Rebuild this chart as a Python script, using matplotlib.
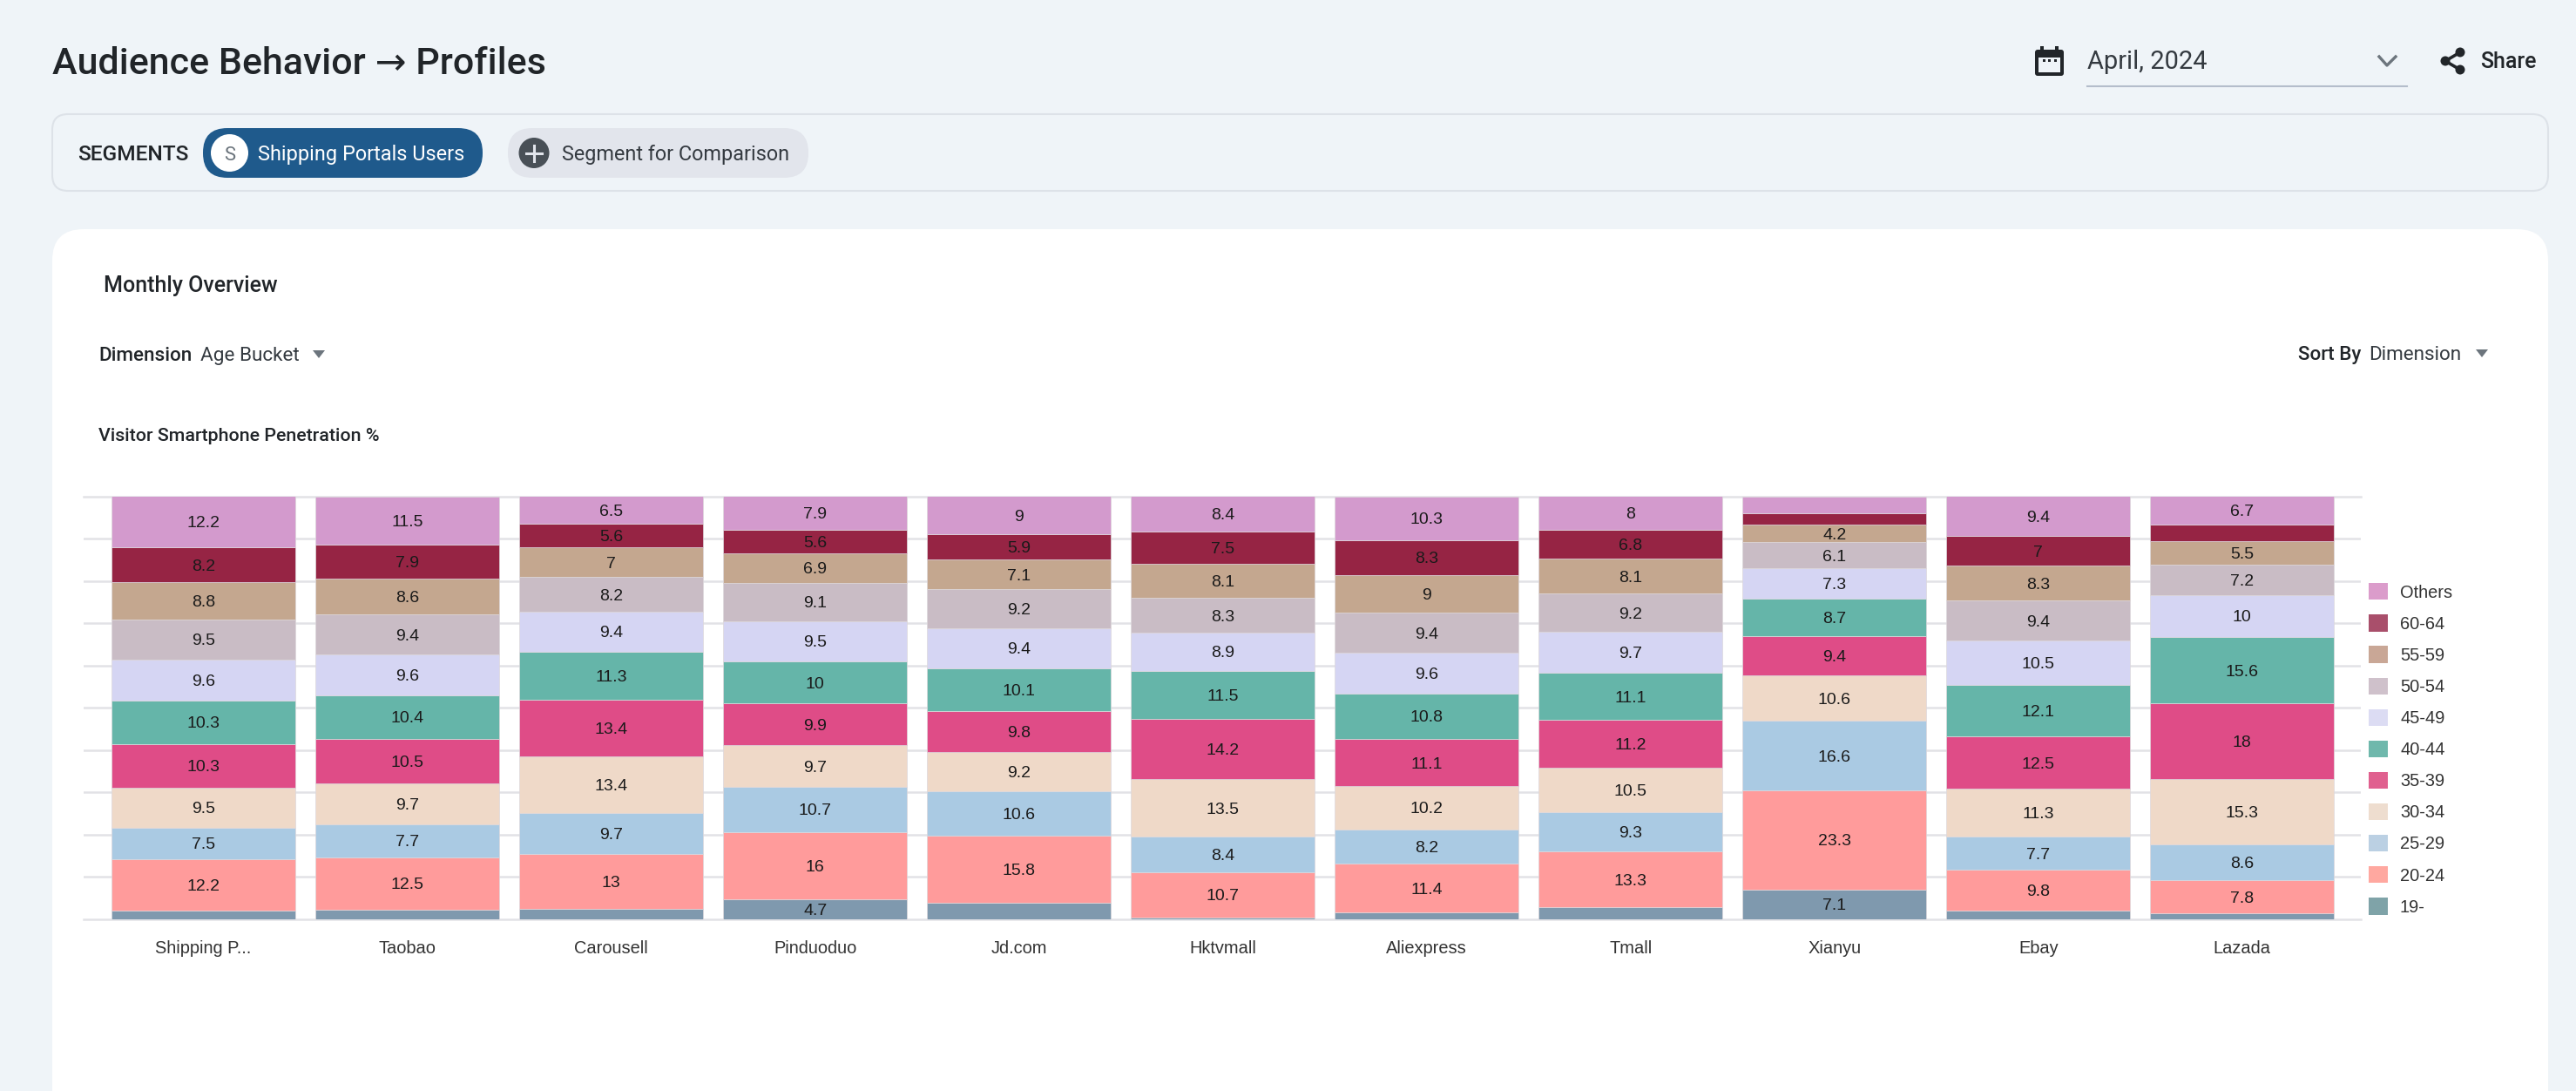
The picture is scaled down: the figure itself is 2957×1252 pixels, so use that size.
"""
plot.py

Recreates the Audience Behavior -> Profiles dashboard:
stacked age bucket bars per shipping portal, plus the page chrome around them.
"""

import matplotlib
matplotlib.use("Agg")
import matplotlib.pyplot as plt
from matplotlib.patches import FancyBboxPatch, Circle, Polygon, Patch, Rectangle

plt.rcParams["font.family"] = ["Roboto", "DejaVu Sans"]

portals = ["Shipping P...", "Taobao", "Carousell", "Pinduoduo", "Jd.com", "Hktvmall",
           "Aliexpress", "Tmall", "Xianyu", "Ebay", "Lazada"]
buckets = ["19-", "20-24", "25-29", "30-34", "35-39", "40-44",
           "45-49", "50-54", "55-59", "60-64", "Others"]

age_19 = [2.0, 2.2, 2.5, 4.7, 3.9, 0.5, 1.7, 2.8, 7.1, 2.0, 1.4]
age_20 = [12.2, 12.5, 13, 16, 15.8, 10.7, 11.4, 13.3, 23.3, 9.8, 7.8]
age_25 = [7.5, 7.7, 9.7, 10.7, 10.6, 8.4, 8.2, 9.3, 16.6, 7.7, 8.6]
age_30 = [9.5, 9.7, 13.4, 9.7, 9.2, 13.5, 10.2, 10.5, 10.6, 11.3, 15.3]
age_35 = [10.3, 10.5, 13.4, 9.9, 9.8, 14.2, 11.1, 11.2, 9.4, 12.5, 18]
age_40 = [10.3, 10.4, 11.3, 10, 10.1, 11.5, 10.8, 11.1, 8.7, 12.1, 15.6]
age_45 = [9.6, 9.6, 9.4, 9.5, 9.4, 8.9, 9.6, 9.7, 7.3, 10.5, 10]
age_50 = [9.5, 9.4, 8.2, 9.1, 9.2, 8.3, 9.4, 9.2, 6.1, 9.4, 7.2]
age_55 = [8.8, 8.6, 7, 6.9, 7.1, 8.1, 9, 8.1, 4.2, 8.3, 5.5]
age_60 = [8.2, 7.9, 5.6, 5.6, 5.9, 7.5, 8.3, 6.8, 2.6, 7, 3.9]
others = [12.2, 11.5, 6.5, 7.9, 9, 8.4, 10.3, 8, 4.1, 9.4, 6.7]
series = [age_19, age_20, age_25, age_30, age_35, age_40, age_45, age_50, age_55, age_60, others]

colors = ["#7F99AE", "#FF9B9B", "#AACAE3", "#EFD9C8", "#DF4C87", "#65B5A9",
          "#D5D5F3", "#C9BCC5", "#C4A78F", "#962444", "#D39ACD"]
legend_colors = ["#7FA3A8", "#FFA8A0", "#BBD0E3", "#EEDDCF", "#E0608F", "#6FB8AC",
                 "#DCDCF3", "#CFC1CB", "#C9A796", "#A94F6B", "#DB9CCB"]

W, H = 2957, 1252
DARK = "#212529"


def pt(px):
    # font size given in pixels of the output image
    return px * 0.72


fig = plt.figure(figsize=(W / 100, H / 100), dpi=100, facecolor="#EFF4F8")

# page chrome, drawn in pixel coordinates
page = fig.add_axes([0, 0, 1, 1])
page.set_xlim(0, W)
page.set_ylim(H, 0)
page.axis("off")


def rounded(x0, y0, x1, y1, r, **kw):
    page.add_patch(FancyBboxPatch((x0 + r, y0 + r), x1 - x0 - 2 * r, y1 - y0 - 2 * r,
                                  boxstyle=f"round,pad={r},rounding_size={r}", **kw))


def label(x, y, s, size, color=DARK, weight="normal", ha="left", **kw):
    page.text(x, y, s, fontsize=pt(size), color=color, weight=weight, ha=ha, va="center_baseline", **kw)


label(60, 69, "Audience Behavior → Profiles", 43, weight="medium")

# date picker and share
rounded(2336, 57, 2369, 87, 3, fc=DARK, ec="none")
page.add_patch(Rectangle((2342, 53), 4, 8, fc=DARK, ec="none"))
page.add_patch(Rectangle((2359, 53), 4, 8, fc=DARK, ec="none"))
page.add_patch(Rectangle((2340, 66), 25, 17, fc="#EFF4F8", ec="none"))
for cx in (2346, 2352.5, 2359):
    page.add_patch(Rectangle((cx - 1.5, 68), 3, 3, fc=DARK, ec="none"))
label(2396, 68, "April, 2024", 29, color="#343A40")
page.plot([2396, 2763], [98.5, 98.5], color="#B4BDCB", lw=1.5)
page.plot([2731, 2740, 2750], [65, 75, 65], color="#6C757D", lw=2.4)
page.plot([2824, 2807, 2824], [60, 70, 80], color=DARK, lw=2.6)
for cx, cy in [(2824, 60), (2807, 70), (2824, 80)]:
    page.add_patch(Circle((cx, cy), 5.5, fc=DARK, ec="none"))
label(2847, 69, "Share", 25, weight="medium")

# segments bar
rounded(60, 131, 2925, 219, 18, fc="none", ec="#DDE2E8", lw=1.5)
label(89, 175, "SEGMENTS", 24.5, weight="medium")
rounded(233, 147, 554, 204, 28, fc="#1F5A8C", ec="none")
page.add_patch(Circle((263.5, 175.5), 21.5, fc="white", ec="none"))
label(263.5, 175.5, "S", 22, color="#6C757D", ha="center")
label(296, 175, "Shipping Portals Users", 23.5, color="white")
rounded(583, 147, 928, 204, 28, fc="#E2E5EC", ec="none")
page.add_patch(Circle((613, 175.5), 17.5, fc="#495057", ec="none"))
page.plot([604, 622], [175.5, 175.5], color="#E2E5EC", lw=2.2)
page.plot([613, 613], [166.5, 184.5], color="#E2E5EC", lw=2.2)
label(645, 175, "Segment for Comparison", 23.4, color="#343A40")

# white card
rounded(60, 263, 2925, 1300, 36, fc="white", ec="none")
label(119, 326, "Monthly Overview", 25, weight="medium")
label(113, 406, "Dimension", 22.5, weight="medium")
label(230, 406, "Age Bucket", 22.5, color="#343A40")
page.add_patch(Polygon([(359, 402), (373, 402), (366, 411)], fc="#6C757D", ec="none"))
label(2638, 405, "Sort By", 22.5, weight="medium")
label(2719, 405, "Dimension", 22.5, color="#343A40")
page.add_patch(Polygon([(2842, 401), (2856, 401), (2849, 410)], fc="#6C757D", ec="none"))
label(113, 498, "Visitor Smartphone Penetration %", 21.4, weight="medium")

# stacked bars
ax = fig.add_axes([96 / W, 1 - 1055 / H, (2710 - 96) / W, (1055 - 569.5) / H])
ax.patch.set_alpha(0)
bottoms = [0] * len(portals)
for name, values, color in zip(buckets, series, colors):
    bars = ax.bar(range(len(portals)), values, width=0.9, bottom=bottoms, color=color,
                  edgecolor="#DDD8DC", linewidth=0.5, zorder=3)
    for i, value in enumerate(values):
        # the chart hides labels on very thin segments
        if value >= 4.2:
            ax.text(i, bottoms[i] + value / 2, f"{value:g}", ha="center", va="center_baseline",
                    fontsize=pt(19.5), family="Liberation Sans", color="#1A1A1A", zorder=4)
    bottoms = [b + v for b, v in zip(bottoms, values)]

ax.set_xlim(-0.588, 10.582)
ax.set_ylim(0, 100)
ax.set_yticks(range(0, 101, 10))
ax.set_yticklabels([])
ax.set_xticks(range(len(portals)))
ax.set_xticklabels(portals, fontsize=pt(20), family="Liberation Sans", color="#333333")
ax.tick_params(axis="both", length=0)
ax.tick_params(axis="x", pad=17)
ax.grid(axis="y", color="#E2E2E6", lw=1.8, zorder=0)
for spine in ax.spines.values():
    spine.set_visible(False)
ax.get_ygridlines()[0].set_clip_on(False)
ax.get_ygridlines()[-1].set_clip_on(False)

# legend, top entry is Others
handles = [Patch(fc=c, ec="none", label=b) for b, c in zip(buckets, legend_colors)][::-1]
ax.legend(handles=handles, loc="center left", bbox_to_anchor=(2719, 860),
          bbox_transform=page.transData, frameon=False, ncol=1, borderpad=0, borderaxespad=0,
          prop={"family": "Liberation Sans", "size": pt(20)}, labelcolor="#333333",
          handlelength=1.1, handleheight=1.1, handletextpad=0.7, labelspacing=0.785)

fig.savefig("out.png", dpi=100, facecolor=fig.get_facecolor())
